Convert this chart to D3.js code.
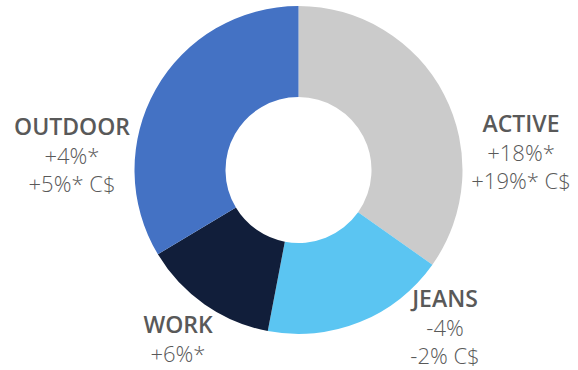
<!DOCTYPE html>
<html>
<head>
<meta charset="utf-8">
<script src="https://cdn.jsdelivr.net/npm/d3@7"></script>
<style>
  html, body { margin: 0; padding: 0; background: #fff; }
  svg { display: block; }
  text { font-family: "Open Sans", sans-serif; fill: #595959; }
</style>
</head>
<body>
<svg id="chart" width="578" height="370"></svg>
<script>
// Segment shares of sales (percent of total)
const categories = ["ACTIVE", "JEANS", "WORK", "OUTDOOR"];
const shares = [34.8, 18.2, 13.4, 33.6];
const colors = ["#cbcbcb", "#5bc5f2", "#111e3a", "#4472c4"];

// Growth annotations per segment
const growthLines = [
  ["+18%*", "+19%* C$"],
  ["-4%", "-2% C$"],
  ["+6%*"],
  ["+4%*", "+5%* C$"]
];

// Label anchor (centre of text block, first baseline)
const labelX = [521, 445, 178, 72];
const labelY = [132, 307, 333, 135];

const width = 578, height = 370;
const cx = 298.5, cy = 170;
const outerR = 164, innerR = 73;

const svg = d3.select("#chart");
const g = svg.append("g").attr("transform", `translate(${cx},${cy})`);

const data = categories.map((c, i) => ({ name: c, value: shares[i], color: colors[i], lines: growthLines[i], i }));

const pie = d3.pie().value(d => d.value).sort(null);
const arc = d3.arc().innerRadius(innerR).outerRadius(outerR);

g.selectAll("path.slice")
  .data(pie(data))
  .join("path")
  .attr("class", "slice")
  .attr("d", arc)
  .attr("fill", d => d.data.color);

const labels = svg.selectAll("g.label")
  .data(data)
  .join("g")
  .attr("class", "label")
  .attr("transform", d => `translate(${labelX[d.i]},${labelY[d.i]})`);

labels.append("text")
  .attr("text-anchor", "middle")
  .attr("font-size", 23)
  .attr("font-weight", 600)
  .text(d => d.name);

labels.each(function(d) {
  d3.select(this).selectAll("text.sub")
    .data(d.lines)
    .join("text")
    .attr("class", "sub")
    .attr("text-anchor", "middle")
    .attr("y", (t, k) => 28.5 * (k + 1))
    .attr("font-size", 22)
    .attr("font-weight", 300)
    .text(t => t);
});
</script>
</body>
</html>
